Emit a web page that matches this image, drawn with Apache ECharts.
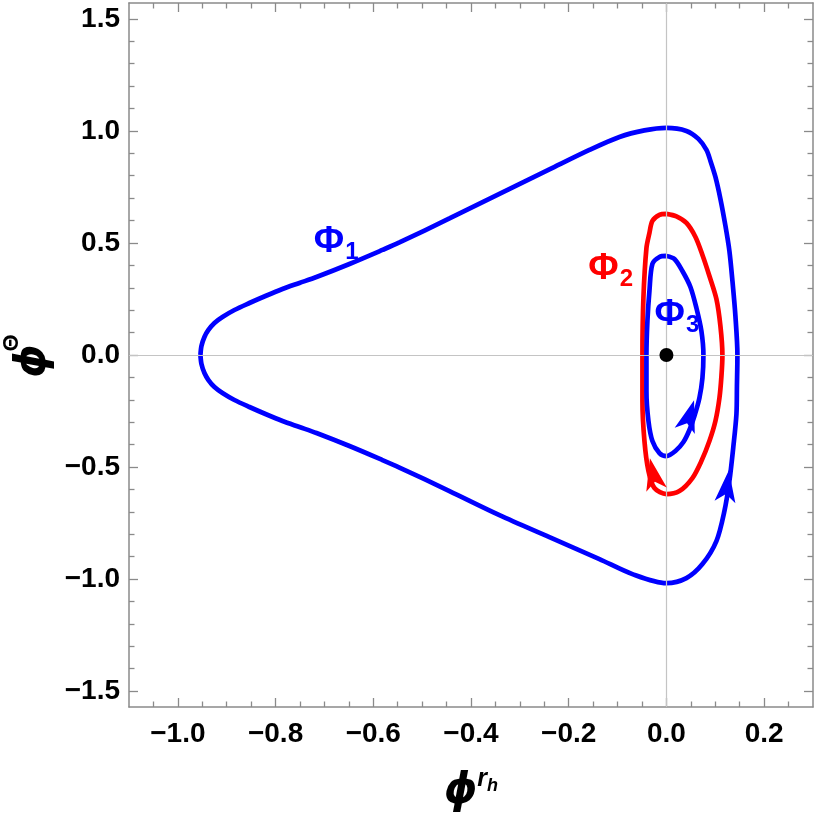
<!DOCTYPE html>
<html><head><meta charset="utf-8">
<script src="https://cdn.jsdelivr.net/npm/echarts@6/dist/echarts.min.js"></script>
<style>html,body{margin:0;padding:0;background:#fff}#c{width:817px;height:817px}</style>
</head><body><div id="c"></div>
<script>
// ---- data ----
const xMajorTicks = [-1.0, -0.8, -0.6, -0.4, -0.2, 0.0, 0.2];
const xMinorTicks = [-1.05, -0.95, -0.9, -0.85, -0.75, -0.7, -0.65, -0.55, -0.5, -0.45, -0.35, -0.3, -0.25, -0.15, -0.1, -0.05, 0.05, 0.1, 0.15, 0.25];
const yMajorTicks = [-1.5, -1.0, -0.5, 0.0, 0.5, 1.0, 1.5];
const yMinorTicks = [-1.4, -1.3, -1.2, -1.1, -0.9, -0.8, -0.7, -0.6, -0.4, -0.3, -0.2, -0.1, 0.1, 0.2, 0.3, 0.4, 0.6, 0.7, 0.8, 0.9, 1.1, 1.2, 1.3, 1.4];

const phi1Points = [
  [-0.9538, 0.0], [-0.9517, 0.0402], [-0.9456, 0.0804], [-0.9374, 0.1116], [-0.9251, 0.1429],
  [-0.9087, 0.1696], [-0.8842, 0.2009], [-0.8535, 0.2321], [-0.8207, 0.2634], [-0.7859, 0.2946],
  [-0.7511, 0.3214], [-0.7163, 0.3482], [-0.6488, 0.4063], [-0.5813, 0.4688], [-0.5465, 0.5022],
  [-0.4441, 0.6094], [-0.3418, 0.7188], [-0.2395, 0.8281], [-0.1576, 0.9152], [-0.0962, 0.9732],
  [-0.0450, 1.0022], [0.0, 1.0134], [0.0409, 1.0000], [0.0655, 0.9643], [0.0819, 0.9152],
  [0.0901, 0.8661], [0.1003, 0.7946], [0.1105, 0.6964], [0.1208, 0.5759], [0.1289, 0.4643],
  [0.1351, 0.3304], [0.1412, 0.1741], [0.1453, 0.0], [0.1443, -0.1384], [0.1433, -0.2634],
  [0.1371, -0.4063], [0.1289, -0.5625], [0.1187, -0.6964], [0.1023, -0.8304], [0.0737, -0.9330],
  [0.0409, -0.9955], [0.0, -1.0179], [-0.0696, -0.9777], [-0.1371, -0.9107], [-0.2395, -0.8125],
  [-0.3418, -0.7143], [-0.4441, -0.6071], [-0.5465, -0.5022], [-0.5813, -0.4688], [-0.6488, -0.4063],
  [-0.7163, -0.3482], [-0.7511, -0.3214], [-0.7859, -0.2946], [-0.8207, -0.2634], [-0.8535, -0.2321],
  [-0.8842, -0.2009], [-0.9087, -0.1696], [-0.9251, -0.1429], [-0.9374, -0.1116], [-0.9456, -0.0804],
  [-0.9517, -0.0402], [-0.9538, 0.0]
];
const phi2Points = [
  [0.0, 0.6295], [0.0205, 0.6183], [0.0409, 0.5893], [0.0594, 0.5268], [0.0737, 0.4464],
  [0.0880, 0.3527], [0.1023, 0.2500], [0.1105, 0.1295], [0.1146, 0.0], [0.1126, -0.0938],
  [0.1085, -0.1920], [0.1003, -0.2946], [0.0880, -0.3839], [0.0716, -0.4732], [0.0532, -0.5491],
  [0.0266, -0.6071], [0.0, -0.6205], [-0.0246, -0.5938], [-0.0368, -0.5179], [-0.0450, -0.3839],
  [-0.0491, -0.2054], [-0.0491, 0.0], [-0.0471, 0.2545], [-0.0409, 0.4777], [-0.0348, 0.5446],
  [-0.0287, 0.5982], [-0.0143, 0.6250], [0.0, 0.6295]
];
const phi3Points = [
  [0.0, 0.4420], [0.0164, 0.4286], [0.0327, 0.3750], [0.0491, 0.3036], [0.0614, 0.2098],
  [0.0716, 0.1071], [0.0757, 0.0], [0.0737, -0.1027], [0.0675, -0.1920], [0.0573, -0.2723],
  [0.0471, -0.3348], [0.0348, -0.3884], [0.0184, -0.4286], [0.0, -0.4509], [-0.0143, -0.4375],
  [-0.0287, -0.3839], [-0.0368, -0.2946], [-0.0409, -0.1607], [-0.0409, 0.0], [-0.0389, 0.1518],
  [-0.0348, 0.2857], [-0.0287, 0.4063], [-0.0143, 0.4375], [0.0, 0.4420]
];
const arrowPoints = [[0.1238, -0.585], [0.047, -0.270], [-0.027, -0.531]];
const fixedPoint = [[0.0, 0.0]];
const labelPoints = [[-0.676, 0.497], [-0.114, 0.376], [0.0215, 0.172]];
const labelSubs = ['1', '2', '3'];

// ---- styles ----
const BLUE = '#0000ff', RED = '#ff0000';
const arrowColors = [BLUE, BLUE, RED];
const arrowAngles = [-7, -17, 12];
const labelColors = [BLUE, RED, BLUE];
const ARROW = 'path://M5,0L10,14L5,10.5L0,14Z';
const FONT = '"Liberation Sans", Arial, sans-serif';
const fmt = v => (v < 0 ? '\u2212' : '') + Math.abs(v).toFixed(1);
const frame = {show: true, onZero: false, lineStyle: {color: '#8a8a8a', width: 1.5}};

function xAx(pos, major, withLabel) {
  return {
    type: 'value', position: pos, min: -1.1, max: 0.3,
    axisLine: major ? frame : {show: false, onZero: false},
    splitLine: {show: false},
    axisTick: {show: true, inside: true, length: major ? 9 : 5.5,
      customValues: major ? xMajorTicks : xMinorTicks,
      lineStyle: {color: '#8a8a8a', width: 1.3}},
    axisLabel: withLabel ? {show: true, customValues: xMajorTicks, formatter: fmt,
      fontFamily: FONT, fontWeight: 'bold', fontSize: 28, color: '#000', margin: 13} : {show: false}
  };
}
function yAx(pos, major, withLabel) {
  return {
    type: 'value', position: pos, min: -Math.PI / 2, max: Math.PI / 2,
    axisLine: major ? frame : {show: false, onZero: false},
    splitLine: {show: false},
    axisTick: {show: true, inside: true, length: major ? 9 : 5.5,
      customValues: major ? yMajorTicks : yMinorTicks,
      lineStyle: {color: '#8a8a8a', width: 1.3}},
    axisLabel: withLabel ? {show: true, customValues: yMajorTicks, formatter: fmt,
      fontFamily: FONT, fontWeight: 'bold', fontSize: 28, color: '#000', margin: 9} : {show: false}
  };
}

const xAxes = [xAx('bottom', true, true), xAx('bottom', false, false), xAx('top', true, false), xAx('top', false, false)];
const yAxes = [yAx('left', true, true), yAx('left', false, false), yAx('right', true, false), yAx('right', false, false)];

xAxes[0].name = '{p|\u03d5}{r|r}{h|h}';
xAxes[0].nameLocation = 'middle';
xAxes[0].nameGap = 60;
xAxes[0].nameTextStyle = {
  rich: {
    p: {fontFamily: 'DejaVu Sans', fontStyle: 'italic', fontWeight: 'bold', fontSize: 42, color: '#000', lineHeight: 46, verticalAlign: 'bottom'},
    r: {fontFamily: FONT, fontStyle: 'italic', fontWeight: 'bold', fontSize: 25, color: '#000', verticalAlign: 'top', lineHeight: 24},
    h: {fontFamily: FONT, fontStyle: 'italic', fontWeight: 'bold', fontSize: 18, color: '#000', verticalAlign: 'top', padding: [10, 0, 0, 0]}
  }
};

const option = {
  animation: false,
  backgroundColor: '#fff',
  grid: {left: 129, top: 3, width: 684, height: 704, containLabel: false, outerBoundsMode: 'none'},
  xAxis: xAxes,
  yAxis: yAxes,
  graphic: [{
    type: 'group', x: 34, y: 361, rotation: Math.PI / 2,
    children: [
      {type: 'text', x: 0, y: 0, style: {text: '\u03d5', fontFamily: 'DejaVu Sans', fontStyle: 'italic', fontWeight: 'bold', fontSize: 42, fill: '#000', align: 'center', verticalAlign: 'middle'}},
      {type: 'text', x: 18, y: -22, style: {text: '\u0398', fontFamily: FONT, fontWeight: 'bold', fontSize: 22, fill: '#000', align: 'center', verticalAlign: 'middle'}}
    ]
  }],
  series: [
    {type: 'line', data: fixedPoint, symbol: 'none', lineStyle: {width: 0}, z: 1,
      markLine: {silent: true, symbol: 'none', animation: false, label: {show: false},
        lineStyle: {color: '#c4c4c4', width: 1.2, type: 'solid'},
        data: [{xAxis: 0}, {yAxis: 0}]}},
    {type: 'line', data: phi1Points, smooth: 0.3, symbol: 'none', lineStyle: {color: BLUE, width: 4.7}, z: 3},
    {type: 'line', data: phi2Points, smooth: 0.3, symbol: 'none', lineStyle: {color: RED, width: 4.7}, z: 3},
    {type: 'line', data: phi3Points, smooth: 0.3, symbol: 'none', lineStyle: {color: BLUE, width: 4.7}, z: 3},
    {type: 'scatter', symbol: ARROW, symbolSize: [21, 32], z: 5,
      data: arrowPoints.map((p, i) => ({value: p, symbolRotate: arrowAngles[i], itemStyle: {color: arrowColors[i], opacity: 1}}))},
    {type: 'scatter', data: fixedPoint, symbol: 'circle', symbolSize: 14, itemStyle: {color: '#000', opacity: 1}, z: 6},
    {type: 'scatter', symbol: 'circle', symbolSize: 1, itemStyle: {color: 'rgba(0,0,0,0)', opacity: 1}, z: 7,
      data: labelPoints.map((p, i) => ({value: p, label: {
        show: true, position: 'inside', opacity: 1,
        formatter: '{a|\u03a6}{b|' + labelSubs[i] + '}',
        rich: {
          a: {fontFamily: FONT, fontWeight: 'bold', fontSize: 37, color: labelColors[i], verticalAlign: 'top', lineHeight: 38},
          b: {fontFamily: FONT, fontWeight: 'bold', fontSize: 24, color: labelColors[i], verticalAlign: 'top', padding: [17, 0, 0, 1]}
        }}}))}
  ]
};
const chart = echarts.init(document.getElementById('c'), null, {renderer: 'canvas'});
chart.setOption(option);
</script>
</body></html>
